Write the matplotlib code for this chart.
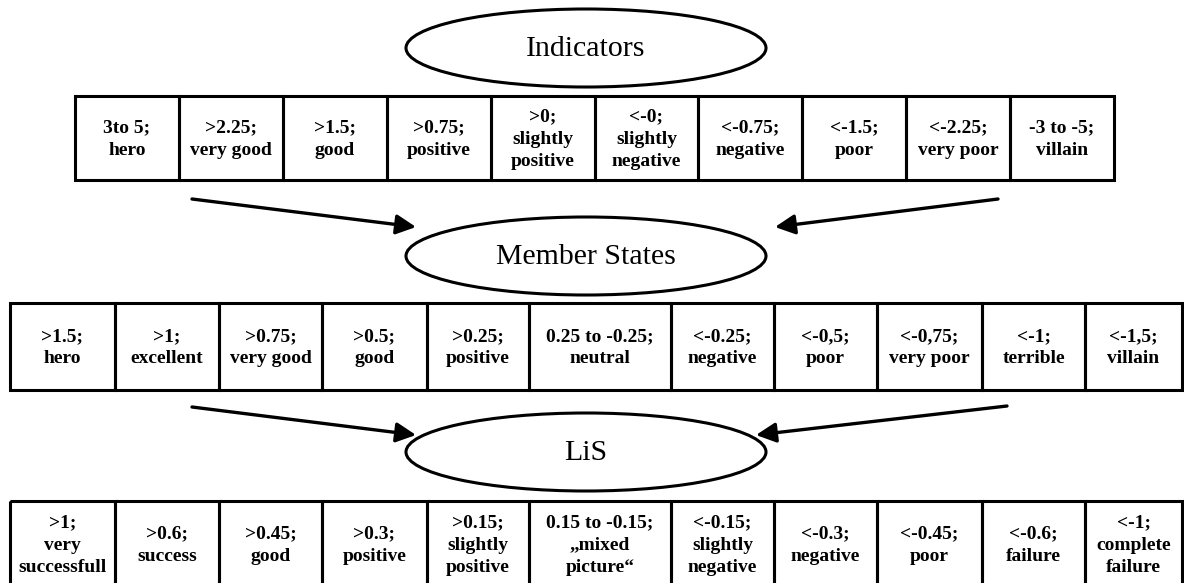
import matplotlib.pyplot as plt
from matplotlib.patches import Rectangle, Ellipse

plt.rcParams['font.family'] = ['Liberation Serif', 'DejaVu Serif']

# level names
levels = ['Indicators', 'Member States', 'LiS']

# cell labels per level
indicator_labels = ['3to 5;\nhero', '>2.25;\nvery good', '>1.5;\ngood', '>0.75;\npositive',
                    '>0;\nslightly\npositive', '<-0;\nslightly\nnegative', '<-0.75;\nnegative',
                    '<-1.5;\npoor', '<-2.25;\nvery poor', '-3 to -5;\nvillain']
member_labels = ['>1.5;\nhero', '>1;\nexcellent', '>0.75;\nvery good', '>0.5;\ngood',
                 '>0.25;\npositive', '0.25 to -0.25;\nneutral', '<-0.25;\nnegative',
                 '<-0,5;\npoor', '<-0,75;\nvery poor', '<-1;\nterrible', '<-1,5;\nvillain']
lis_labels = ['>1;\nvery\nsuccessfull', '>0.6;\nsuccess', '>0.45;\ngood', '>0.3;\npositive',
              '>0.15;\nslightly\npositive', '0.15 to -0.15;\n\u201emixed\npicture\u201c',
              '<-0.15;\nslightly\nnegative', '<-0.3;\nnegative', '<-0.45;\npoor',
              '<-0.6;\nfailure', '<-1;\ncomplete\nfailure']

W, H = 1184, 583
fig = plt.figure(figsize=(W / 100, H / 100), dpi=100)
ax = fig.add_axes([0, 0, 1, 1])
ax.set_xlim(0, W)
ax.set_ylim(H, 0)
ax.axis('off')

LW = 2.2
FS = 14

# layout (pixels): column edges and row extents
edges_top = [75 + i * 103.9 for i in range(11)]
edges_low = [10, 115, 219, 322, 427, 529, 671, 774, 877, 982, 1085, 1182]
rows = [(indicator_labels, edges_top, 96, 180),
        (member_labels, edges_low, 303, 390),
        (lis_labels, edges_low, 501, 587)]

for labels, edges, y0, y1 in rows:
    for i, lab in enumerate(labels):
        x0, x1 = edges[i], edges[i + 1]
        ax.add_patch(Rectangle((x0, y0), x1 - x0, y1 - y0, fill=False,
                               ec='black', lw=LW))
        ax.text((x0 + x1) / 2, (y0 + y1) / 2 + 1, lab, ha='center', va='center',
                fontsize=FS, fontweight='bold', linespacing=1.4, color='black')

# ellipses with level names
ell_y = [48, 256, 452]
for name, cy in zip(levels, ell_y):
    ax.add_patch(Ellipse((586, cy), 360, 78, fill=False, ec='black', lw=LW))
    ax.text(586, cy + 1, name, ha='center', va='center', fontsize=21.5, color='black')

# arrows between levels
arrow_kw = dict(arrowstyle='-|>', lw=2.4, color='black', mutation_scale=30,
                shrinkA=0, shrinkB=0)
for ys, ye in [(199, 227), (407, 435)]:
    ax.annotate('', xy=(416, ye), xytext=(192, ys), arrowprops=arrow_kw)
ax.annotate('', xy=(775, 227), xytext=(998, 199), arrowprops=arrow_kw)
ax.annotate('', xy=(756, 435), xytext=(1007, 406), arrowprops=arrow_kw)

fig.savefig('out.png', dpi=100)
